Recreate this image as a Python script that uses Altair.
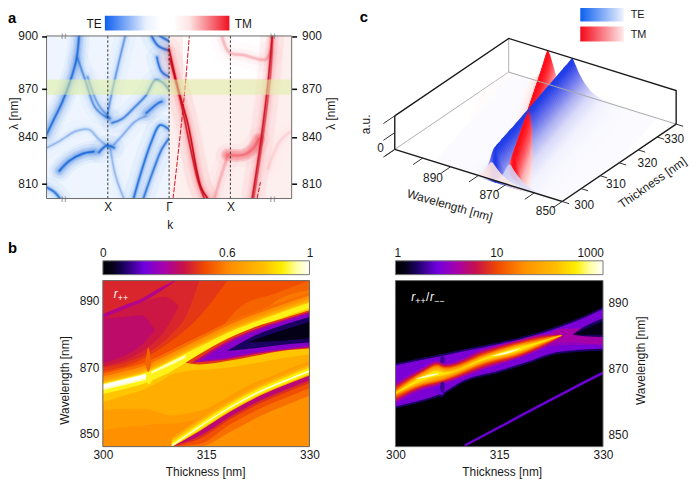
import altair as alt
import pandas as pd

FONT = "Liberation Sans"
INK = "#1a1a1a"

# ---------- palette shared by the two maps ----------
pal_pos = [0, .05, .10, .20, .30, .39, .49, .62, .78, .87, .94, 1]
pal_col = ["#000000", "#05001a", "#1a0060", "#7000e0", "#a800a8", "#c8104a", "#f04800",
           "#ff9000", "#ffc000", "#fff000", "#ffffa8", "#ffffff"]
PAL = alt.Scale(domain=pal_pos, range=pal_col, interpolate="rgb")

# ---------- panel a ----------
k_ticks = [-1, 0, 1]
lam_ticks = [900, 870, 840, 810]
te_bands = {
    "te1": (.9, [-1.47, -1.51, -1.60, -1.74, -1.87, -2.0], [900, 887, 875.6, 861.8, 851.6, 841.4]),
    "te2": (.55, [-1.49, -1.36, -1.2, -.98], [887, 873.8, 857.7, 851]),
    "te3": (.4, [-1.33, -1.15, -.96], [876.6, 859.6, 851.6]),
    "te4": (.5, [-.715, -.82, -.93, -1.01], [900, 885, 868, 852.7]),
    "te5": (.7, [-.93, -.77, -.55, -.37, -.23, -.12, 0], [848.6, 851, 858.8, 866, 874.7, 873.8, 869]),
    "te6": (1, [-1.79, -1.63, -1.41, -1.23], [818.2, 824.6, 829.2, 830.5]),
    "te7": (.9, [-1.145, -1.01, -.9], [830, 834.5, 833]),
    "te8": (.3, [-2, -1.79, -1.52, -1.31, -1.145, -.98], [833, 837.2, 843.5, 844.5, 838.3, 833]),
    "te9": (.35, [-.9, -.77, -.55, -.39], [835, 840.5, 849.6, 852.7]),
    "te10": (.85, [-.37, -.18, -.12], [854.7, 860.8, 861.8]),
    "te11": (.9, [-.58, -.45, -.285, -.15, 0], [800, 818.2, 837.2, 847.2, 844.5]),
    "te12": (.8, [-.42, -.26, -.12, 0], [800, 818.2, 832, 839]),
    "te13": (.3, [-.96, -.88, -.74], [833, 816, 800]),
    "te14": (.9, [-2, -1.87, -1.78], [807.6, 804.3, 800]),
    "te15": (.9, [-.285, -.18, 0], [900, 894.4, 891.6]),
    "te16": (.9, [-.15, 0], [900, 897]),
    "te17": (.85, [-.2, -.12, 0], [887.8, 879.4, 876.6]),
}
te_wide = {k: te_bands[k] for k in ("te1", "te6", "te10")}
tm_bands = {
    "tm1": (1, [0, .145, .31, .52, .63], [892.5, 870, 847.4, 807.6, 800]),
    "tm2": (.8, [.01, .17, .47, .575], [887, 865, 812, 800]),
    "tm3": (.45, [.74, .84, .95], [800, 814, 827]),
    "tm4": (.7, [.95, 1.22, 1.38, 1.46], [828.5, 828.5, 833, 838.5]),
    "tm5": (.85, [1.355, 1.49, 1.62, 1.68], [800, 835.5, 875.6, 900]),
    "tm6": (.5, [1.38, 1.515, 1.65, 1.69], [800, 835.5, 875.6, 900]),
    "tm9": (.5, [.87, .98, 1.22, 1.57, 1.65], [899, 890.6, 889, 886.5, 890.6]),
    "tm10": (.18, [1.62, 1.81, 2], [820, 837.2, 843.5]),
}
tm_core = {k: tm_bands[k] for k in ("tm1", "tm2", "tm5", "tm6")}
tm_wide = {k: tm_bands[k] for k in ("tm4",)}
tm_dash = {
    "d1": ([.065, .25, .33], [800, 866.3, 900]),
    "d2": ([1.435, 1.49], [800, 811]),
}
green_band = (866, 875)
white_top = ([.23, 1.62], 875.5, 900)

# ---------- panel b ----------
T1 = [300, 303, 306, 308, 310, 312, 315, 318, 321, 325, 330]
ridge = [864.5, 866, 867.7, 869.5, 871.5, 873.5, 876.5, 879.5, 882, 885, 888.5]
T2 = [310, 314, 318.5, 323, 327, 330]
ridge2 = [846.3, 852, 858, 863, 866.5, 869]

ratio_T = [300, 303, 306.7, 310, 315.2, 319, 322.4, 325.7, 330]
ratio_hi = [871, 872.3, 873.8, 875.3, 877.5, 879.4, 881.5, 884, 888]
ratio_lo = [858.5, 860, 862.5, 866.5, 869.5, 872, 874.5, 875.5, 876]
levels_T = [300, 304, 306, 307.2, 313, 318, 321, 324]
levels_C = [862.5, 867, 868.5, 868.5, 873, 876, 878, 880]
levels = [
    (.30, [3, 3.3, 3.8, 3, 3, 2.7, 2.2, .5]),
    (.36, [2.4, 2.9, 3.4, 2.6, 2.6, 2.4, 1.9, .3]),
    (.42, [2, 2.5, 3, 2.3, 2.2, 2.2, 1.6, .2]),
    (.49, [1.5, 2.2, 2.7, 2, 1.8, 1.9, 1.3, .15]),
    (.55, [1, 2, 2.5, 1.8, 1.4, 1.6, 1, .1]),
    (.62, [.7, 1.7, 2.2, 1.5, 1.2, 1.4, .8, .1]),
    (.70, [.4, 1.4, 1.8, 1.1, .9, 1.1, .5, .08]),
    (.78, [.2, 1, 1.3, .7, .6, .85, .35, .05]),
    (.85, [.08, .6, .85, .3, .3, .6, .2, .03]),
]
thin_T = [310, 315, 320, 325, 330]
thin_C = [846.6, 852.2, 857.8, 863.3, 868.7]

# ---------- panel c ----------
thick = [300 + .5 * i for i in range(61)]
te_peak = [864, 864.2, 864.5, 864.7, 864.9, 865.1, 865.4, 865.6, 865.8, 866, 866.2, 866.4, 866.7, 866.8, 867, 867.2,
           867.5, 867.7, 867.9, 868.1, 868.3, 868.5, 868.8, 869, 869.2, 869.4, 869.6, 869.8, 870.1, 870.3, 870.5, 870.7,
           871, 871.2, 871.4, 871.6, 871.9, 872.1, 872.3, 872.5, 872.8, 873, 873.2, 873.4, 873.6, 873.8, 874.1, 874.3,
           874.5, 874.7, 875, 875.2, 875.4, 875.6, 875.9, 876.1, 876.3, 876.5, 876.8, 877, 877.3]
tm_peak = [857.3, 857.8, 858.2, 858.7, 859.2, 859.7, 860.1, 860.6, 861.1, 861.5, 862, 862.5, 863, 863.4, 863.9, 864.4,
           864.9, 865.3, 865.8, 866.3, 866.8, 867.2, 867.7, 868.2, 868.7, 869.1, 869.6, 870.1, 870.6, 871, 871.5, 872,
           872.5, 872.9, 873.4, 873.9, 874.4, 874.8, 875.3, 875.8, 876.3, 876.7, 877.2, 877.7, 878.2, 878.6, 879.1,
           879.6, 880.1, 880.5, 881, 881.5, 882, 882.4, 882.9, 883.4, 883.9, 884.4, 884.9, 885.4, 886]
offsets = [-30, -22, -16, -11, -7, -4.5, -3, -2, -1, -.5, 0, .5, 1, 2, 3, 4.5, 7, 11, 16, 22]
te_shape = [.003, .006, .015, .05, .18, .38, .55, .7, .87, .96, 1, .95, .84, .55, .3, .1, .02, .006, .003, .001]
tm_shape = [.002, .004, .008, .015, .02, .14, .35, .6, .85, .95, 1, .93, .8, .5, .25, .09, .02, .006, .003, .001]
te_map = [(0, "#fbfbff"), (.1, "#eaeafc"), (.3, "#c0c2f4"), (.55, "#8088ee"), (.8, "#4a58ea"), (1, "#1c3ae8")]
tm_map = [(0, "#fffcfb"), (.1, "#ffe8e6"), (.3, "#ffc0c0"), (.55, "#ff7078"), (.8, "#ff3038"), (1, "#ff0a18")]
lam_c_ticks = list(range(840, 901, 10))
t_c_ticks = list(range(300, 331, 5))


def project(lam, t, h=0.0):
    u = (lam - 840) / 60
    v = (t - 300) / 30
    return 568.7 - 169.4 * u + 115.3 * v, 201 - 52.7 * u - 78.3 * v - 34 * h


def mix(cmap, h):
    for (a, ca), (b, cb) in zip(cmap, cmap[1:]):
        if h <= b:
            f = (h - a) / (b - a)
            rgb = [round(int(ca[i:i + 2], 16) * (1 - f) + int(cb[i:i + 2], 16) * f) for i in (1, 3, 5)]
            return "#%02x%02x%02x" % tuple(rgb)
    return cmap[-1][1]


# ---------- helpers ----------
PAGE_X = alt.Scale(domain=[0, 697], range=[-8, 689], nice=False, zero=False)
PAGE_Y = alt.Scale(domain=[0, 482], range=[-8, 474], nice=False, zero=False)


def sx(domain, a, b):
    return alt.Scale(domain=domain, range=[a - 8, b - 8], nice=False, zero=False)


def sy(domain, rng):
    return alt.Scale(domain=domain, range=[r - 8 for r in rng], nice=False, zero=False)


A_X = sx([-2, 2], 47, 295)
A_Y = sy([800, 810, 840, 870, 900], [198, 183, 135.5, 86.5, 33.5])
B1_X = sx([300, 330], 104, 313)
B1_Y = sy([846, 850, 870, 890, 896], [449, 435.7, 369.3, 300.7, 281])
B2_X = sx([300, 330], 400, 610)
B2_Y = sy([846.3, 850, 870, 890, 896.6], [449, 436.7, 370, 303, 281])
PLAIN = "'' + datum.value"


def ax(orient, offset, values=None, **kw):
    base = dict(orient=orient, offset=offset, grid=False, domain=False, labelFont=FONT,
                labelFontSize=12, labelColor=INK, zindex=1, labelFlush=False, labelOverlap=False, title=None,
                labelExpr=PLAIN)
    if values is not None:
        base["values"] = values
    base.update(kw)
    return alt.Axis(**base)


def frame(xs, ys, xd, yd, xaxis=None, yaxis=None, **mk):
    df = pd.DataFrame({"x": [xd[0]], "x2": [xd[1]], "y": [yd[0]], "y2": [yd[1]]})
    style = dict(fill="transparent", stroke="#6a6a6a", strokeWidth=1)
    style.update(mk)
    return alt.Chart(df).mark_rect(**style).encode(
        x=alt.X("x:Q", scale=xs, axis=xaxis), x2="x2:Q",
        y=alt.Y("y:Q", scale=ys, axis=yaxis), y2="y2:Q")


def cont(xs, ys, v, t, lo, hi):
    df = pd.DataFrame({"t": t, "lo": lo, "hi": hi, "v": [v] * len(t)})
    return alt.Chart(df).mark_area(interpolate="monotone").encode(
        x=alt.X("t:Q", scale=xs, axis=None), y=alt.Y("lo:Q", scale=ys, axis=None), y2="hi:Q",
        color=alt.Color("v:Q", scale=PAL, legend=None))


def txt(s, x, y, size=12, color=INK, angle=0, align="center", weight="normal", style="normal", base="middle"):
    return alt.Chart(pd.DataFrame({"s": [s]})).mark_text(
        font=FONT, fontSize=size, color=color, angle=angle, align=align, fontWeight=weight,
        fontStyle=style, baseline=base).encode(x=alt.value(x - 8), y=alt.value(y - 8), text="s:N")


def grad(stops, vertical=False):
    g = {"gradient": "linear", "x1": 0, "x2": 0 if vertical else 1, "y1": 0, "y2": 1 if vertical else 0}
    g["stops"] = [{"offset": o, "color": c} for o, c in stops]
    return g


def gradbar(x0, x1, y0, y1, stops, xs=None, xaxis=None):
    scale = xs if xs is not None else PAGE_X
    df = pd.DataFrame({"x": [x0], "x2": [x1], "y": [y0], "y2": [y1]})
    return alt.Chart(df).mark_rect(color=grad(stops)).encode(
        x=alt.X("x:Q", scale=scale, axis=xaxis), x2="x2:Q",
        y=alt.Y("y:Q", scale=PAGE_Y, axis=None), y2="y2:Q")


def band_df(bands):
    rows = []
    for name, (w, ks, ls) in bands.items():
        for i, (a, b) in enumerate(zip(ks, ls)):
            rows.append({"band": name, "i": i, "k": a, "lam": b, "w": w})
    return pd.DataFrame(rows)


def band_layers(df, color, widths):
    out = []
    for width, op in widths:
        d = df.assign(o=df.w * op)
        out.append(alt.Chart(d).mark_line(interpolate="catmull-rom", strokeWidth=width, color=color, strokeCap="round").encode(
            x=alt.X("k:Q", scale=A_X, axis=None), y=alt.Y("lam:Q", scale=A_Y, axis=None),
            detail="band:N", order="i:Q", opacity=alt.Opacity("o:Q", scale=None)))
    return out


L = []
# ========== panel a ==========
L.append(frame(A_X, A_Y, (-2, 0), (800, 900), stroke="transparent", fill="#eef5ff"))
L.extend(band_layers(band_df(te_wide), "#0a5fd8", [(16, .08), (9, .1)]))
L.extend(band_layers(band_df(te_bands), "#0a5fd8", [(22, .045), (11, .07), (6, .13), (3.5, .25), (2.2, .4), (1.2, .7)]))
L.append(frame(A_X, A_Y, (0, 2), (800, 900), stroke="transparent", fill="#feefef"))
L.append(frame(A_X, A_Y, white_top[0], (white_top[1], white_top[2]), stroke="transparent", fill="#ffffff"))
L.extend(band_layers(band_df(tm_wide), "#f01828", [(13, .18), (9, .2)]))
L.extend(band_layers(band_df(tm_bands), "#ea1020", [(24, .04), (12, .06), (6, .1), (3.5, .16), (2.2, .28)]))
L.extend(band_layers(band_df(tm_core), "#c00012", [(1.5, .85)]))
for name, (ks, ls) in tm_dash.items():
    L.append(alt.Chart(pd.DataFrame({"k": ks, "lam": ls})).mark_line(
        color="#d81020", strokeWidth=1, strokeDash=[5, 1.5], interpolate="catmull-rom", order=False).encode(
        x=alt.X("k:Q", scale=A_X, axis=None), y=alt.Y("lam:Q", scale=A_Y, axis=None)))
L.append(frame(A_X, A_Y, (-2, 2), green_band, stroke="transparent", fill="#dff0a0", opacity=.55))
# white masks round the panel so the soft bands end at its edge
for x0, x1, y0, y1 in [(8, 47, 20, 215), (295, 320, 20, 215), (8, 320, 198, 215), (8, 320, 16, 33)]:
    L.append(alt.Chart(pd.DataFrame({"x": [x0], "x2": [x1], "y": [y0], "y2": [y1]})).mark_rect(fill="#ffffff").encode(
        x=alt.X("x:Q", scale=PAGE_X, axis=None), x2="x2:Q", y=alt.Y("y:Q", scale=PAGE_Y, axis=None), y2="y2:Q"))
for kv in k_ticks:
    L.append(alt.Chart(pd.DataFrame({"k": [kv], "a": [800], "b": [900]})).mark_rule(
        color="#222222", strokeWidth=.9, strokeDash=[2.5, 2]).encode(
        x=alt.X("k:Q", scale=A_X, axis=None), y=alt.Y("a:Q", scale=A_Y, axis=None), y2="b:Q"))
L.append(frame(A_X, A_Y, (-2, 2), (800, 900),
               xaxis=ax("bottom", 198 - 8 - 474, values=k_ticks, ticks=False, labelPadding=3,
                        labelExpr="datum.value == 0 ? 'Γ' : 'X'"),
               yaxis=ax("left", -39, values=lam_ticks, tickSize=5, tickWidth=1.6, tickColor="#111111", labelPadding=4)))
L.append(frame(A_X, A_Y, (-2, 2), (800, 900), stroke="transparent",
               yaxis=ax("right", 295 - 8 - 689, values=lam_ticks, tickSize=5, tickWidth=1.6,
                        tickColor="#111111", labelPadding=5)))
L.append(txt("k", 172, 225))
L.append(txt("λ [nm]", 14.5, 112, angle=270))
L.append(txt("λ [nm]", 335, 112, angle=270))
L.append(gradbar(106, 232, 13, 28, [(0, "#0c5ff0"), (.33, "#eaf1fe"), (.45, "#ffffff"), (.55, "#ffffff"), (.68, "#fde4e4"), (1, "#f01020")]))
L.append(txt("TE", 95, 21, 12))
L.append(txt("TM", 246, 21, 12))
for kv in (-1.72, 1.69):
    for lv in (800, 900):
        L.append(alt.Chart(pd.DataFrame({"k": [kv], "lam": [lv], "s": ["≀≀"]})).mark_text(
            font="DejaVu Sans", fontSize=9, color="#777777").encode(
            x=alt.X("k:Q", scale=A_X, axis=None), y=alt.Y("lam:Q", scale=A_Y, axis=None), text="s:N"))


# ========== panel b, left ==========
def C(off):
    return [c + off for c in ridge]


def D(off):
    return [max(846, d + off) for d in ridge2]


def b(v, t, lo, hi):
    L.append(cont(B1_X, B1_Y, v, t, lo, hi))


b(.5, [300, 330], [846, 846], [896, 896])
b(.54, [316, 320, 325, 330], [878, 880, 885, 888], [878.2, 888, 892, 896])
b(.58, [322, 325, 330], [883, 885, 888], [883.2, 889.5, 893])
b(.46, [300, 304, 307, 310, 313, 316, 318], [869, 871, 874, 878, 883, 890, 895.9], [896] * 7)
b(.43, [300, 304, 307, 310, 312, 314], [870, 872, 875, 880, 885, 895.9], [896] * 6)
b(.40, [300, 304, 306.5, 309, 311], [870.5, 873, 876, 881, 888], [885, 888, 890, 891, 888.2])
b(.36, [300, 303, 305.5, 307.5], [871.5, 873.5, 876.5, 881], [884.5, 885, 885.5, 881.2])
b(.33, [300, 303, 306, 308, 310.5], [884.7, 887.2, 889.7, 892.2, 895.8], [885.9, 888.4, 890.9, 893.4, 896])
b(.56, T1, [846] * 11, C(3.8))
b(.62, T1, [846] * 11, C(2.9))
b(.66, T1, [851, 852, 852.5, 853, 853, 853.5, 855.5, 859.5, 863, 866.5, 870.5], C(2.2))
b(.72, T1, [857, 857.5, 857.5, 856.5, 855.5, 856, 857.5, 861, 864.5, 868, 872], C(1.6))
b(.79, T1, [859.5, 861.5, 863.5, 865.5, 868, 869, 869.5, 870, 871, 872.5, 874], C(1.1))
b(.88, T1, [862, 863.5, 865.2, 867, 869, 871.5, 874.5, 877.5, 880.5, 884, 887.5], C(.7))
b(.95, [300, 303, 306.3], [863.2, 864.7, 866.4], [865, 866.5, 868.2])
b(.95, [307, 309, 312], [868.2, 870, 873], [868.8, 870.9, 873.8])
b(1, [300, 303, 306.3], [863.8, 865.3, 867], [864.8, 866.3, 868])
b(.54, [306.2, 306.6, 307], [871, 868.8, 871], [872, 876, 872])
b(.88, [306.3, 306.7, 307.1], [866, 865, 866], [868.3, 868.7, 868.3])
# resonance dip
b(.46, [312, 314, 318, 322, 326, 330], [871.5, 871, 872, 873.5, 875, 875.7], [871.5, 874, 878.5, 882, 884.5, 887])
b(.33, [313, 318, 322, 326, 330], [871.6, 872.5, 874, 875.2, 876], [871.6, 877.7, 881.3, 884, 886.5])
b(.24, [314, 318, 322, 326, 330], [872, 873, 874.5, 875.5, 876.5], [872, 877, 880.7, 883.5, 886])
b(.10, [318, 322, 326, 330], [875, 875.8, 876.8, 877.5], [875, 879.5, 882.5, 885])
b(.04, [321, 326, 330], [877.5, 878, 878.7], [877.5, 881, 883.5])
# second ridge
b(.56, T2, D(-7.5), D(-1))
b(.5, T2, D(-5.2), D(-1))
b(.44, T2, D(-3.6), D(-1))
b(.35, T2, D(-2.8), D(-1.3))
b(.69, T2, D(-1.3), D(2.4))
b(.78, T2, D(-1.15), D(1.7))
b(.87, T2, D(-.9), D(1))
b(.98, T2, D(-.25), D(.25))
L.append(frame(B1_X, B1_Y, (300, 330), (846, 896),
               xaxis=ax("bottom", 449 - 8 - 474, values=[300, 315, 330], ticks=False, labelPadding=3),
               yaxis=ax("left", -(104 - 8), values=[850, 870, 890], ticks=False, labelPadding=4)))
L.append(txt("Wavelength [nm]", 66, 382, angle=270))
L.append(txt("Thickness [nm]", 208, 475))
CB1 = sx([0, 1], 104, 313)
L.append(gradbar(0, 1, 261, 275, list(zip(pal_pos, pal_col)), xs=CB1,
                 xaxis=ax("top", -(261 - 8), values=[0, .6, 1], ticks=False, labelPadding=1)))
L.append(frame(CB1, PAGE_Y, (0, 1), (261, 275), stroke="#777777"))
L.append(txt("r", 115, 295, 12, "#ffffff", style="italic", align="left"))
L.append(txt("++", 119, 299, 9, "#ffffff", align="left"))


# ========== panel b, right ==========
def c2(v, t, lo, hi):
    L.append(cont(B2_X, B2_Y, v, t, lo, hi))


c2(0, [300, 330], [846.3, 846.3], [896.6, 896.6])
c2(.1, ratio_T, [x - .6 for x in ratio_lo], [x + .6 for x in ratio_hi])
c2(.1, [305.5, 306.7, 307.5], [863, 861.2, 864], [870, 870, 870])
c2(.22, ratio_T, ratio_lo, ratio_hi)
c2(.2, [305.5, 306.7, 307.5], [864, 862, 865], [870, 870, 870])
c2(.27, [312, 316, 320, 324, 330], [870.5, 873, 875.5, 877, 877.3], [875.5, 877.5, 879.5, 881.5, 883])
c2(.3, [322, 324, 326, 328, 330], [877.5, 878, 878, 877.5, 877.3], [880, 882, 882, 882, 882])
c2(.1, [325.7, 327, 330], [880.2, 879.8, 879.5], [880.4, 882.3, 885.2])
c2(.04, [326, 327.5, 330], [880.3, 880.2, 880.2], [880.4, 882, 884.2])
for v, hw in levels:
    c2(v, levels_T, [c - h for c, h in zip(levels_C, hw)], [c + h for c, h in zip(levels_C, hw)])
c2(.96, [303, 305, 306.2], [866.8, 867.6, 868.3], [867, 868.2, 868.6])
c2(.96, [314, 316, 318], [873.8, 874.4, 876], [873.9, 875.1, 876.1])
c2(.14, [306.5, 306.8, 307.1], [871.8, 871.5, 871.8], [873, 874, 873])
c2(.14, [306.5, 306.8, 307.1], [863.5, 862.6, 863.5], [865.5, 866, 865.5])
c2(.1, thin_T, [max(846.3, c - .6) for c in thin_C], [c + .6 for c in thin_C])
c2(.22, thin_T, [max(846.3, c - .33) for c in thin_C], [c + .33 for c in thin_C])
L.append(frame(B2_X, B2_Y, (300, 330), (846.3, 896.6),
               xaxis=ax("bottom", 449 - 8 - 474, values=[300, 315, 330], ticks=False, labelPadding=3),
               yaxis=ax("right", 610 - 8 - 689, values=[850, 870, 890], ticks=False, labelPadding=5)))
L.append(txt("Wavelength [nm]", 648, 362, angle=270))
L.append(txt("Thickness [nm]", 508, 475))
cb2 = alt.Scale(domain=[.95, 1, 10, 1000, 1500], range=[392, 394, 494, 589, 602], nice=False, zero=False)
L.append(gradbar(.95, 1500, 261, 275, list(zip(pal_pos, pal_col)), xs=cb2,
                 xaxis=ax("top", -(261 - 8), values=[1, 10, 1000], ticks=False, labelPadding=1)))
L.append(frame(cb2, PAGE_Y, (.95, 1500), (261, 275), stroke="#777777"))
L.append(txt("r", 416, 298, 12, "#ffffff", style="italic", align="left"))
L.append(txt("++", 420, 302, 9, "#ffffff", align="left"))
L.append(txt("/", 431, 298, 12, "#ffffff", align="left"))
L.append(txt("r", 435, 298, 12, "#ffffff", style="italic", align="left"))
L.append(txt("−−", 439, 302, 9, "#ffffff", align="left"))


# ========== panel c ==========
def line3d(pts, color, width):
    xy = [project(*p) for p in pts]
    df = pd.DataFrame({"x": [a for a, _ in xy], "y": [b for _, b in xy], "i": list(range(len(xy)))})
    return alt.Chart(df).mark_line(color=color, strokeWidth=width).encode(
        x=alt.X("x:Q", scale=PAGE_X, axis=None), y=alt.Y("y:Q", scale=PAGE_Y, axis=None), order="i:Q")


L.append(line3d([(900, 300, 0), (900, 330, 0)], "#b0b0b0", 1))
L.append(line3d([(900, 330, 0), (900, 330, 1)], "#b0b0b0", 1))


def slice_points(peak, t, shape, scale=1.0, drop=2.0):
    pts = []
    for o, s in zip(offsets, shape):
        lam = min(900, max(840, peak + o))
        x, y0 = project(lam, t)
        _, y1 = project(lam, t, s * scale)
        pts.append({"x": x, "y": y1, "y0": y0 + drop, "h": s})
    return pts


def slice_layer(peak, t, shape, cmap):
    pts = slice_points(peak, t, shape)
    xs = [p["x"] for p in pts]
    lo, hi = min(xs), max(xs)
    gs = sorted(((p["x"] - lo) / (hi - lo), mix(cmap, p["h"])) for p in pts)
    return alt.Chart(pd.DataFrame(pts)).mark_area(color=grad(gs), interpolate="monotone").encode(
        x=alt.X("x:Q", scale=PAGE_X, axis=None), y=alt.Y("y:Q", scale=PAGE_Y, axis=None), y2="y0:Q")


for i in range(len(thick) - 1, -1, -1):
    L.append(slice_layer(tm_peak[i], thick[i], tm_shape, tm_map))
    L.append(slice_layer(te_peak[i], thick[i], te_shape, te_map))

# pale front faces of the two mounds at the thinnest slab
for peak, scale, top, bottom in [(858.8, .62, "#c8ccf6", "#eceefc"), (865.2, .52, "#fde0dc", "#fff4f2")]:
    pts = slice_points(peak, 300, te_shape, scale, 0)
    L.append(alt.Chart(pd.DataFrame(pts)).mark_area(color=grad([(0, top), (1, bottom)], vertical=True), opacity=.9, interpolate="monotone").encode(
        x=alt.X("x:Q", scale=PAGE_X, axis=None), y=alt.Y("y:Q", scale=PAGE_Y, axis=None), y2="y0:Q"))

L.append(line3d([(900, 330, 0), (840, 330, 0)], "#a8a8a8", 1))
for seg in ([(900, 300, 1), (900, 330, 1), (840, 330, 1), (840, 330, 0)],
            [(900, 300, 0), (900, 300, 1)],
            [(900, 300, 0), (840, 300, 0), (840, 330, 0)]):
    L.append(line3d(seg, "#1a1a1a", 1.4))
for lv in lam_c_ticks:
    L.append(line3d([(lv, 300, 0), (lv, 297.5, 0)], "#333333", 1))
for tv in t_c_ticks:
    L.append(line3d([(840, tv, 0), (837.5, tv, 0)], "#333333", 1))
for hv in (0, .5, 1):
    L.append(line3d([(900, 300, hv), (900, 297, hv)], "#333333", 1))
for s, x, y in [("890", 438, 177), ("870", 495, 194), ("850", 552, 211), ("300", 591, 205), ("310", 623, 183),
                ("320", 655, 162), ("330", 682, 138), ("0", 385, 147)]:
    L.append(txt(s, x, y, 12))
L.append(txt("Wavelength [nm]", 455, 205, 12, angle=16))
L.append(txt("Thickness [nm]", 660, 182, 12, angle=325))
L.append(txt("a.u.", 370, 123, 12, angle=270))
L.append(gradbar(587, 631, 4, 19, [(0, "#0c5ff0"), (1, "#eef3fe")]))
L.append(gradbar(587, 631, 24, 39, [(0, "#f50818"), (1, "#fdeaea")]))
L.append(txt("TE", 638, 12, 11, align="left"))
L.append(txt("TM", 638, 33, 11, align="left"))

# letters
L.append(txt("a", 8, 15, 15, weight="bold", align="left", color="#000000"))
L.append(txt("b", 8, 248, 15, weight="bold", align="left", color="#000000"))
L.append(txt("c", 364, 14, 15, weight="bold", align="left", color="#000000"))

chart = alt.layer(*L).resolve_scale(x="independent", y="independent", color="independent").properties(
    width=689, height=474, padding=0, autosize=alt.AutoSizeParams(type="none"),
    background="#ffffff", view=alt.ViewBackground(stroke=None)
)

chart.save("out.html", embed_options={"renderer": "svg", "actions": False})
